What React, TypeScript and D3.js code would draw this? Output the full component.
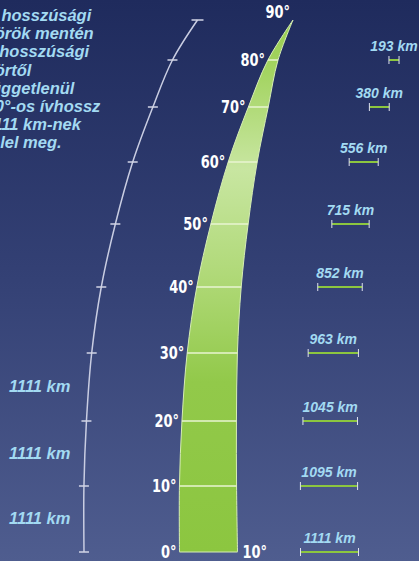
import React from "react";
import * as d3 from "d3";

// latitude rings drawn on the meridian strip
const latitudes = [0, 10, 20, 30, 40, 50, 60, 70, 80, 90];
const latLabels = latitudes.map((d) => `${d}°`);
const lonLabel = "10°";

// length of a 10° arc along each parallel (0°..80°)
const parallelKm = [1111, 1095, 1045, 963, 852, 715, 556, 380, 193];
// length of a 10° arc along the meridian (0-10, 10-20, 20-30)
const meridianKm = [1111, 1111, 1111];

const noteLines = [
  "A hosszúsági",
  "körök mentén",
  "a hosszúsági",
  "körtől",
  "függetlenül",
  "10°-os ívhossz",
  "1111 km-nek",
  "felel meg.",
];

const W = 419;
const H = 561;

// perspective of the strip: vertical position and centre line per latitude
const yRange = [552, 486, 421, 353, 287, 224, 162, 107, 60, 20];
const cxRange = [208.5, 208, 209.2, 212.3, 219, 229.5, 242.7, 258.3, 273, 293];
const baseHalf = 29;
const arcOffset = 95.5;
const barOffset = 121;

const labelFont = "'DejaVu Sans Condensed', 'DejaVu Sans', sans-serif";
const italicFont = "'Liberation Sans', Arial, sans-serif";
const blueText = "#a3daf2";

export default function App() {
  const y = d3.scaleLinear().domain(latitudes).range(yRange);
  const cx = d3.scaleLinear().domain(latitudes).range(cxRange);
  const half = (lat: number) => baseHalf * Math.cos((lat * Math.PI) / 180);
  const kmScale = d3.scaleLinear().domain([0, 1111]).range([0, 58]);

  const line = d3
    .line<[number, number]>()
    .x((d) => d[0])
    .y((d) => d[1])
    .curve(d3.curveCatmullRom);

  const leftPts: [number, number][] = latitudes.map((l) => [cx(l) - half(l), y(l)]);
  const rightPts: [number, number][] = latitudes
    .map((l) => [cx(l) + half(l), y(l)] as [number, number])
    .reverse();
  const stripD = (line(leftPts) || "") + (line(rightPts) || "").replace(/^M/, "L") + "Z";

  const arcPts: [number, number][] = latitudes.map((l) => [cx(l) - half(l) - arcOffset, y(l)]);
  const arcD = line(arcPts) || "";

  const degText = (x: number, yy: number, t: string, anchor: string, key: string) => (
    <text
      key={key}
      transform={`translate(${x},${yy}) scale(0.8,1)`}
      textAnchor={anchor}
      fontFamily={labelFont}
      fontWeight="bold"
      fontSize={18}
      fill="#ffffff"
    >
      {t}
    </text>
  );

  return (
    <svg
      width={W}
      height={H}
      style={{ position: "absolute", left: 0, top: 0, display: "block" }}
    >
      <defs>
        <linearGradient id="bg" x1="0" y1="0" x2="0" y2="1">
          <stop offset="0" stopColor="#1f2b5d" />
          <stop offset="0.5" stopColor="#344175" />
          <stop offset="1" stopColor="#4f5d8f" />
        </linearGradient>
        <linearGradient id="strip" gradientUnits="userSpaceOnUse" x1="0" y1={y(90)} x2="0" y2={y(0)}>
          <stop offset="0" stopColor="#98ce50" />
          <stop offset="0.1" stopColor="#a4d462" />
          <stop offset="0.28" stopColor="#c8e6a1" />
          <stop offset="0.48" stopColor="#b0d978" />
          <stop offset="0.68" stopColor="#92c94a" />
          <stop offset="1" stopColor="#8cc640" />
        </linearGradient>
      </defs>
      <rect width={W} height={H} fill="url(#bg)" />

      {/* note text, cropped at the left edge */}
      <text
        fontFamily={italicFont}
        fontStyle="italic"
        fontWeight="bold"
        fontSize={16.5}
        fill={blueText}
      >
        {noteLines.map((t, i) => (
          <tspan key={i} x={-14.5} y={21 + i * 18.2}>
            {t}
          </tspan>
        ))}
      </text>

      {/* meridian arc */}
      <path d={arcD} fill="none" stroke="#c9cde2" strokeWidth={1.5} />
      {arcPts.map((p, i) => (
        <line
          key={i}
          x1={p[0] - (i === arcPts.length - 1 ? 6 : 5)}
          x2={p[0] + (i === arcPts.length - 1 ? 6 : 5)}
          y1={p[1]}
          y2={p[1]}
          stroke="#d2d5e6"
          strokeWidth={1.5}
        />
      ))}
      {meridianKm.map((km, i) => (
        <text
          key={i}
          x={9}
          y={(y(latitudes[i]) + y(latitudes[i + 1])) / 2 + 5}
          fontFamily={italicFont}
          fontStyle="italic"
          fontWeight="bold"
          fontSize={16.5}
          fill={blueText}
        >
          {`${km} km`}
        </text>
      ))}

      {/* meridian strip */}
      <path d={stripD} fill="url(#strip)" stroke="#d6edb4" strokeWidth={1} />
      {latitudes.slice(1, -1).map((l) => (
        <line
          key={l}
          x1={cx(l) - half(l)}
          x2={cx(l) + half(l)}
          y1={y(l)}
          y2={y(l)}
          stroke="#e8f4d2"
          strokeWidth={1.5}
        />
      ))}

      {/* degree labels */}
      {latitudes.map((l, i) =>
        degText(cx(l) - half(l) - 3, l === 90 ? y(l) - 2 : y(l) + 6, latLabels[i], "end", `d${l}`)
      )}
      {degText(cx(0) + half(0) + 5, y(0) + 6, lonLabel, "start", "lon")}

      {/* parallel arc lengths */}
      {parallelKm.map((km, i) => {
        const l = latitudes[i];
        const c = cx(l) + barOffset;
        const w = kmScale(km);
        const yy = y(l);
        return (
          <g key={km}>
            <line x1={c - w / 2} x2={c + w / 2} y1={yy} y2={yy} stroke="#8cc63f" strokeWidth={2} />
            <line x1={c - w / 2} x2={c - w / 2} y1={yy - 4} y2={yy + 4} stroke="#dfe2ee" strokeWidth={1} />
            <line x1={c + w / 2} x2={c + w / 2} y1={yy - 4} y2={yy + 4} stroke="#dfe2ee" strokeWidth={1} />
            <text
              x={c}
              y={yy - 9.5}
              textAnchor="middle"
              fontFamily={italicFont}
              fontStyle="italic"
              fontWeight="bold"
              fontSize={14}
              fill={blueText}
            >
              {`${km} km`}
            </text>
          </g>
        );
      })}
    </svg>
  );
}
